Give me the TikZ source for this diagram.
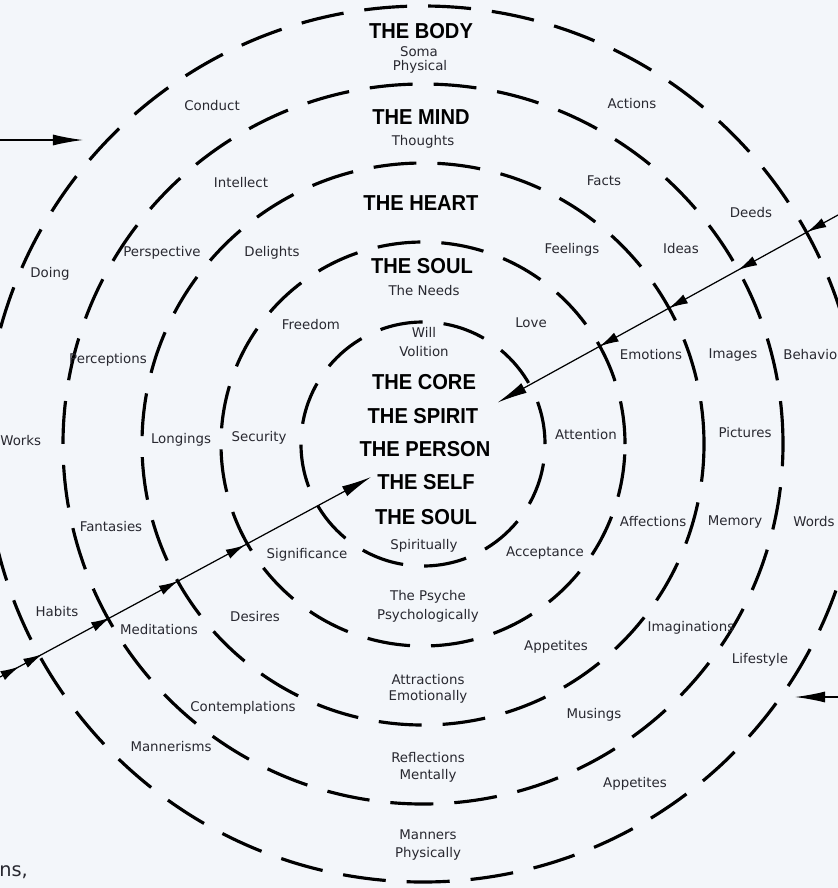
\documentclass[tikz,border=0pt]{standalone}
\usepackage{fontspec}
\setmainfont{DejaVu Sans}
\newfontfamily\titlefont{Liberation Sans}[FakeStretch=0.93]
\usepackage{tikz}
\usetikzlibrary{arrows.meta,decorations.markings}
\definecolor{ScanPaper}{RGB}{243,246,250}
\definecolor{InkGrey}{RGB}{40,40,48}

\begin{document}
\begin{tikzpicture}[x=0.2mm,y=-0.2mm,
      ring/.style={line width=1.8pt,dash pattern=on 8.6mm off 4.2mm},
      ttl/.style={font=\titlefont\bfseries\fontsize{12.3}{14}\selectfont,inner sep=0pt},
      lbl/.style={font=\fontsize{7.6}{9}\selectfont,text=InkGrey,inner sep=0pt},
      ptr/.style={line width=0.7pt},
      midtip/.tip={Latex[length=3.8mm,width=2mm]},
      endtip/.tip={Latex[length=6mm,width=2.2mm]},
      tipsNE/.style={postaction={decorate},decoration={markings,
          mark=at position 7mm with {\arrow{midtip}},
          mark=at position 22.8mm with {\arrow{midtip}},
          mark=at position 38.6mm with {\arrow{midtip}},
          mark=at position 54.4mm with {\arrow{midtip}}}},
      tipsSW/.style={postaction={decorate},decoration={markings,
          mark=at position 4.4mm with {\arrow{midtip}},
          mark=at position 9.6mm with {\arrow{midtip}},
          mark=at position 25mm with {\arrow{midtip}},
          mark=at position 40.4mm with {\arrow{midtip}},
          mark=at position 55.6mm with {\arrow{midtip}}}}]
    \fill[ScanPaper] (0,0) rectangle (838,888);
    \useasboundingbox (0,0) rectangle (838,888);
    \clip (0,0) rectangle (838,888);
    \coordinate (ctr) at (423,444);
    % the five rings
    \foreach \r in {24.4,40.4,56.2,72.0,87.6}
      \draw[ring] (ctr) circle[radius=\r mm];
    % centre column
    \node[ttl] (body)     at (421,31)  {THE BODY};
    \node[lbl] (soma)     at (419,52)  {Soma};
    \node[lbl] (physical) at (420,67)  {Physical};
    \node[ttl] (mind)     at (421,117) {THE MIND};
    \node[lbl] (thoughts) at (423,142) {Thoughts};
    \node[ttl] (heart)    at (421,203) {THE HEART};
    \node[ttl] (soul)     at (422,266) {THE SOUL};
    \node[lbl] (needs)    at (424,291) {The Needs};
    \node[lbl] (will)     at (424,332) {Will};
    \node[lbl] (volition) at (424,352) {Volition};
    \node[ttl] (core)     at (424,382) {THE CORE};
    \node[ttl] (spirit)   at (423,416) {THE SPIRIT};
    \node[ttl] (person)   at (425,449) {THE PERSON};
    \node[ttl] (self)     at (426,482) {THE SELF};
    \node[ttl] (soulin)   at (426,517) {THE SOUL};
    \node[lbl] (spiritually) at (424,546) {Spiritually};
    \node[lbl] (psyche)   at (428,597) {The Psyche};
    \node[lbl] (psycho)   at (428,616) {Psychologically};
    \node[lbl] (attract)  at (428,680) {Attractions};
    \node[lbl] (emotion)  at (428,697) {Emotionally};
    \node[lbl] (reflect)  at (428,758) {Reflections};
    \node[lbl] (mental)   at (428,776) {Mentally};
    \node[lbl] (manners)  at (428,835) {Manners};
    \node[lbl] (physic)   at (428,854) {Physically};
    % left half
    \node[lbl] (conduct)  at (212,106) {Conduct};
    \node[lbl] (intellect) at (241,183) {Intellect};
    \node[lbl] (perspect) at (162,253) {Perspective};
    \node[lbl] (delights) at (272,253) {Delights};
    \node[lbl] (doing)    at (50,274)  {Doing};
    \node[lbl] (freedom)  at (311,325) {Freedom};
    \node[lbl] (percept)  at (108,360) {Perceptions};
    \node[lbl,anchor=west] (works) at (0,441) {Works};
    \node[lbl] (longings) at (181,440) {Longings};
    \node[lbl] (security) at (259,438) {Security};
    \node[lbl] (fantasy)  at (111,527) {Fantasies};
    \node[lbl] (signif)   at (307,555) {Significance};
    \node[lbl] (habits)   at (57,612)  {Habits};
    \node[lbl] (meditate) at (159,630) {Meditations};
    \node[lbl] (desires)  at (255,617) {Desires};
    \node[lbl] (contempl) at (243,708) {Contemplations};
    \node[lbl] (manner)   at (171,747) {Mannerisms};
    \node[font=\fontsize{11}{12}\selectfont,text=InkGrey,inner sep=0pt,anchor=base west] (ns) at (-1,876) {ns,};
    % right half
    \node[lbl] (actions)  at (632,104) {Actions};
    \node[lbl] (facts)    at (604,181) {Facts};
    \node[lbl] (deeds)    at (751,213) {Deeds};
    \node[lbl] (feelings) at (572,250) {Feelings};
    \node[lbl] (ideas)    at (681,249) {Ideas};
    \node[lbl] (love)     at (531,323) {Love};
    \node[lbl] (emotions) at (651,355) {Emotions};
    \node[lbl] (images)   at (733,355) {Images};
    \node[lbl,anchor=west] (behav) at (783,355) {Behavio};
    \node[lbl] (attent)   at (586,435) {Attention};
    \node[lbl] (pictures) at (745,433) {Pictures};
    \node[lbl] (affect)   at (653,522) {Affections};
    \node[lbl] (memory)   at (735,522) {Memory};
    \node[lbl,anchor=west] (words) at (793,522) {Words};
    \node[lbl] (accept)   at (545,553) {Acceptance};
    \node[lbl] (appa)     at (556,647) {Appetites};
    \node[lbl] (imagin)   at (691,628) {Imaginations};
    \node[lbl] (lifestyle) at (760,660) {Lifestyle};
    \node[lbl] (musings)  at (594,715) {Musings};
    \node[lbl] (appb)     at (635,784) {Appetites};
    % arrows
    \coordinate (west) at (0,140);
    \coordinate (westtip) at (83,140);
    \coordinate (east) at (838,697);
    \coordinate (easttip) at (795,697);
    \coordinate (ne) at (838,215);
    \coordinate (sw) at (0,677);
    \draw[ptr,-endtip] (west) -- (westtip);
    \draw[ptr,-endtip] (east) -- (easttip);
    \draw[ptr,tipsNE,-endtip] (ne) -- ([xshift=3.8mm,yshift=1.1mm]spirit.north east);
    \draw[ptr,tipsSW,-endtip] (sw) -- ([xshift=-1.2mm,yshift=1mm]self.west);
\end{tikzpicture}
\end{document}
